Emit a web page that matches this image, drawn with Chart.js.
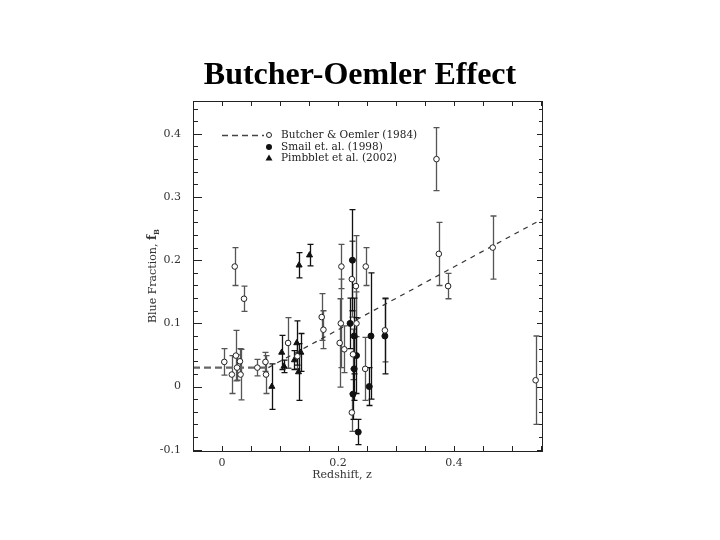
<!DOCTYPE html>
<html>
<head>
<meta charset="utf-8">
<title>Butcher-Oemler Effect</title>
<script src="https://cdn.jsdelivr.net/npm/chart.js@4/dist/chart.umd.min.js"></script>
<style>
html,body{margin:0;padding:0;background:#fff;}
#wrap{width:720px;height:540px;}
</style>
</head>
<body>
<div id="wrap"><canvas id="boChart" width="720" height="540"></canvas></div>
<script>
// Butcher & Oemler (1984), open circles
var boX   = [0.004, 0.017, 0.022, 0.024, 0.026, 0.031, 0.032, 0.038, 0.061, 0.075, 0.076, 0.114, 0.130, 0.172, 0.175, 0.206, 0.205, 0.203, 0.211, 0.224, 0.231, 0.232, 0.226, 0.224, 0.248, 0.247, 0.281, 0.370, 0.374, 0.390, 0.467, 0.541];
var boY   = [0.039, 0.019, 0.190, 0.049, 0.030, 0.040, 0.019, 0.139, 0.030, 0.039, 0.019, 0.069, 0.048, 0.110, 0.090, 0.190, 0.100, 0.069, 0.059, 0.170, 0.159, 0.100, 0.051, -0.041, 0.190, 0.028, 0.089, 0.360, 0.210, 0.159, 0.220, 0.010];
var boErr = [0.021, 0.030, 0.030, 0.040, 0.020, 0.020, 0.040, 0.020, 0.013, 0.015, 0.030, 0.040, 0.020, 0.037, 0.030, 0.035, 0.070, 0.070, 0.037, 0.060, 0.080, 0.050, 0.040, 0.030, 0.030, 0.050, 0.050, 0.050, 0.050, 0.020, 0.050, 0.070];
// Smail et al. (1998), filled circles
var smX   = [0.221, 0.225, 0.228, 0.232, 0.228, 0.226, 0.235, 0.257, 0.254, 0.281];
var smY   = [0.100, 0.200, 0.080, 0.049, 0.028, -0.012, -0.072, 0.080, 0.000, 0.080];
var smErr = [0.040, 0.080, 0.060, 0.060, 0.050, 0.040, 0.020, 0.100, 0.030, 0.060];
// Pimbblet et al. (2002), filled triangles
var piX   = [0.086, 0.103, 0.107, 0.125, 0.129, 0.133, 0.132, 0.136, 0.151];
var piY   = [0.000, 0.054, 0.032, 0.042, 0.069, 0.192, 0.023, 0.054, 0.208];
var piErr = [0.036, 0.027, 0.010, 0.015, 0.035, 0.020, 0.045, 0.030, 0.017];
// dashed trend line
var fitFlatX = [-0.05, 0.08];
var fitFlatY = [0.03, 0.03];
var fitRiseX = [0.08, 0.552];
var fitRiseY = [0.03, 0.265];

var xMin = -0.05, xMax = 0.552;
var yMin = -0.102, yMax = 0.452;

function toPts(xs, ys){
    var out = [];
    for (var i = 0; i < xs.length; i++) out.push({x: xs[i], y: ys[i]});
    return out;
}

var serif = "'DejaVu Serif', 'Liberation Serif', serif";

// error bars, drawn before the markers
var errorBars = {
    id: 'errorBars',
    beforeDatasetsDraw: function(chart){
        var ctx = chart.ctx, xs = chart.scales.x, ys = chart.scales.y;
        var sets = [[boX, boY, boErr, '#555'], [smX, smY, smErr, '#111'], [piX, piY, piErr, '#111']];
        ctx.save();
        ctx.lineWidth = 1.3;
        sets.forEach(function(s){
            ctx.strokeStyle = s[3];
            for (var i = 0; i < s[0].length; i++){
                var px = Math.round(xs.getPixelForValue(s[0][i])) + 0.5;
                var top = ys.getPixelForValue(s[1][i] + s[2][i]);
                var bot = ys.getPixelForValue(s[1][i] - s[2][i]);
                ctx.beginPath();
                ctx.moveTo(px, top); ctx.lineTo(px, bot);
                ctx.moveTo(px - 3, top); ctx.lineTo(px + 3, top);
                ctx.moveTo(px - 3, bot); ctx.lineTo(px + 3, bot);
                ctx.stroke();
            }
        });
        ctx.restore();
    }
};

// title, frame with inward ticks, axis titles and the legend
var frame = {
    id: 'frame',
    afterDraw: function(chart){
        var ctx = chart.ctx, a = chart.chartArea, xs = chart.scales.x, ys = chart.scales.y;
        ctx.save();
        ctx.fillStyle = '#000';
        ctx.font = "bold 32px 'Liberation Serif', 'Times New Roman', serif";
        ctx.textAlign = 'center';
        ctx.textBaseline = 'middle';
        ctx.fillText('Butcher-Oemler Effect', 360, 76);

        ctx.strokeStyle = '#222';
        ctx.lineWidth = 1;
        ctx.strokeRect(Math.round(a.left) + 0.5, Math.round(a.top) + 0.5, Math.round(a.right - a.left), Math.round(a.bottom - a.top));
        ctx.beginPath();
        xs.ticks.forEach(function(t){
            var px = Math.round(xs.getPixelForValue(t.value)) + 0.5;
            ctx.moveTo(px, a.bottom); ctx.lineTo(px, a.bottom - 5);
            ctx.moveTo(px, a.top); ctx.lineTo(px, a.top + 5);
        });
        ys.ticks.forEach(function(t){
            var py = Math.round(ys.getPixelForValue(t.value)) + 0.5;
            var major = Math.abs(Math.round(t.value * 10) - t.value * 10) < 1e-6;
            ctx.moveTo(a.left, py); ctx.lineTo(a.left + (major ? 9 : 5), py);
            ctx.moveTo(a.right, py); ctx.lineTo(a.right - (major ? 5 : 3), py);
        });
        ctx.stroke();

        // axis titles
        ctx.fillStyle = '#333';
        ctx.font = '11px ' + serif;
        ctx.fillText('Redshift, z', 342, 475);
        ctx.save();
        ctx.translate(153, 276);
        ctx.rotate(-Math.PI / 2);
        ctx.textAlign = 'left';
        var lab = 'Blue Fraction, ';
        var w = ctx.measureText(lab).width;
        ctx.font = 'bold 12px ' + serif;
        var wf = ctx.measureText('f').width;
        var x0 = -(w + wf + 6) / 2;
        ctx.font = '11px ' + serif;
        ctx.fillText(lab, x0, 0);
        ctx.font = 'bold 12px ' + serif;
        ctx.fillText('f', x0 + w, 0);
        ctx.font = 'bold 7px ' + serif;
        ctx.fillText('B', x0 + w + wf, 4);
        ctx.restore();

        // legend
        var lx = 281, rows = [135, 147, 158];
        var names = ['Butcher & Oemler (1984)', 'Smail et. al. (1998)', 'Pimbblet et al. (2002)'];
        ctx.strokeStyle = '#444';
        ctx.lineWidth = 1.3;
        ctx.setLineDash([6, 4]);
        ctx.beginPath();
        ctx.moveTo(222, rows[0] + 0.5); ctx.lineTo(264, rows[0] + 0.5);
        ctx.stroke();
        ctx.setLineDash([]);
        ctx.lineWidth = 1;
        ctx.strokeStyle = '#222';
        ctx.fillStyle = '#fff';
        ctx.beginPath(); ctx.arc(269, rows[0], 2.5, 0, Math.PI * 2); ctx.fill(); ctx.stroke();
        ctx.fillStyle = '#111';
        ctx.beginPath(); ctx.arc(269, rows[1], 3, 0, Math.PI * 2); ctx.fill();
        ctx.beginPath(); ctx.moveTo(269, rows[2] - 3.5); ctx.lineTo(272.5, rows[2] + 2.5); ctx.lineTo(265.5, rows[2] + 2.5); ctx.closePath(); ctx.fill();
        ctx.fillStyle = '#222';
        ctx.font = '10.5px ' + serif;
        ctx.textAlign = 'left';
        names.forEach(function(n, i){ ctx.fillText(n, lx, rows[i]); });
        ctx.restore();
    }
};

function isStep(v, step){
    var r = v / step;
    return Math.abs(r - Math.round(r)) < 1e-6;
}

var ctx = document.getElementById('boChart').getContext('2d');
var chart = new Chart(ctx, {
    type: 'scatter',
    data: {
        datasets: [{
            label: 'Butcher & Oemler (1984)',
            data: toPts(boX, boY),
            pointStyle: 'circle',
            pointRadius: 2.8,
            backgroundColor: '#fff',
            borderColor: '#222',
            borderWidth: 1
        }, {
            label: 'Smail et. al. (1998)',
            data: toPts(smX, smY),
            pointStyle: 'circle',
            pointRadius: 3,
            backgroundColor: '#111',
            borderColor: '#111',
            borderWidth: 1
        }, {
            label: 'Pimbblet et al. (2002)',
            data: toPts(piX, piY),
            pointStyle: 'triangle',
            pointRadius: 3.5,
            backgroundColor: '#111',
            borderColor: '#111',
            borderWidth: 1
        }, {
            type: 'line',
            label: 'fit low',
            data: toPts(fitFlatX, fitFlatY),
            borderColor: '#666',
            borderWidth: 2.2,
            borderDash: [7, 4],
            pointRadius: 0,
            fill: false
        }, {
            type: 'line',
            label: 'fit high',
            data: toPts(fitRiseX, fitRiseY),
            borderColor: '#333',
            borderWidth: 1.2,
            borderDash: [5, 5],
            pointRadius: 0,
            fill: false
        }]
    },
    options: {
        responsive: false,
        animation: false,
        layout: { padding: { left: 153, right: 178, top: 101, bottom: 0 } },
        plugins: {
            legend: { display: false },
            tooltip: { enabled: false },
            title: { display: false }
        },
        scales: {
            x: {
                type: 'linear',
                min: xMin,
                max: xMax,
                grid: { display: false, drawTicks: false },
                border: { display: false },
                afterFit: function(s){ s.height = 89; },
                ticks: {
                    stepSize: 0.05,
                    includeBounds: false,
                    autoSkip: false,
                    maxRotation: 0,
                    padding: 6,
                    color: '#333',
                    font: { family: serif, size: 11 },
                    callback: function(v){ return isStep(v, 0.2) ? String(Math.round(v * 10) / 10) : ''; }
                }
            },
            y: {
                type: 'linear',
                min: yMin,
                max: yMax,
                grid: { display: false, drawTicks: false },
                border: { display: false },
                afterFit: function(s){ s.width = 40; },
                ticks: {
                    stepSize: 0.02,
                    includeBounds: false,
                    autoSkip: false,
                    padding: 12,
                    color: '#333',
                    font: { family: serif, size: 11 },
                    callback: function(v){ return isStep(v, 0.1) ? String(Math.round(v * 10) / 10) : ''; }
                }
            }
        }
    },
    plugins: [errorBars, frame]
});
</script>
</body>
</html>
